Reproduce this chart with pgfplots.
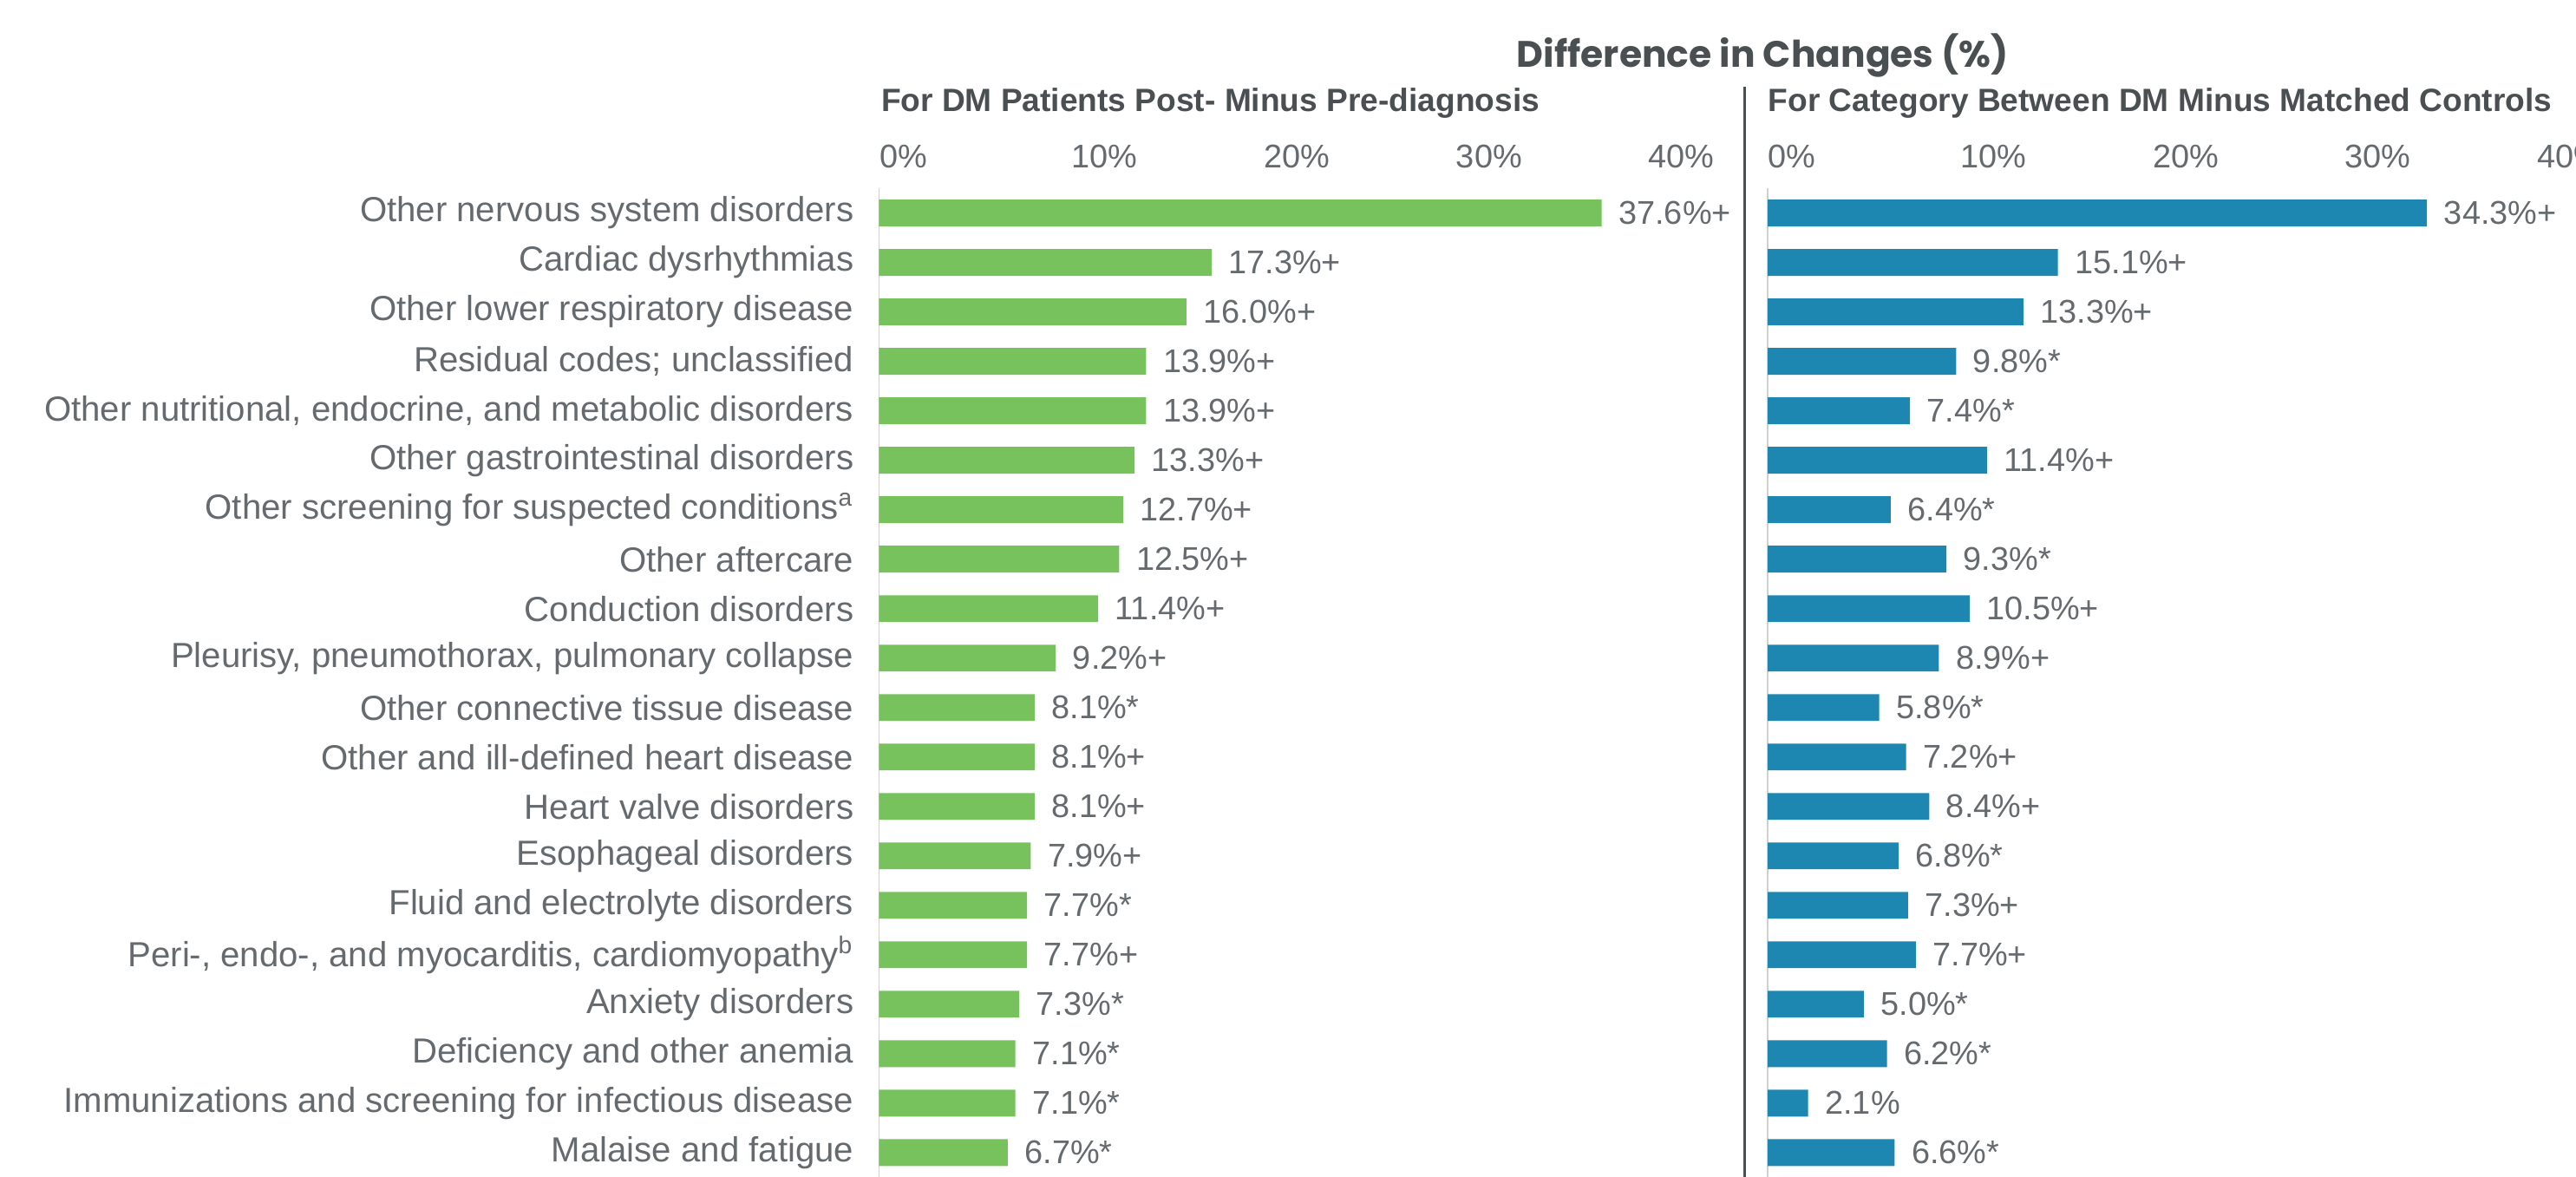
\documentclass[border=0pt]{standalone}
\usepackage{fontspec}
\setmainfont{Liberation Sans}
\newfontfamily\titlefont{Poppins}
\usepackage{pgfplots}
\pgfplotsset{compat=1.18}
\definecolor{bargreen}{HTML}{78C25E}
\definecolor{barblue}{HTML}{1D87B1}
\definecolor{txtgray}{HTML}{646A6E}
\definecolor{ttlgray}{HTML}{4A4F52}
\definecolor{axgray}{HTML}{D0D0D0}
\pgfplotsset{
  panel/.style={
    scale only axis, width=234pt, height=301pt,
    anchor=north west,
    xbar, bar width=8.15pt,
    xmin=0, xmax=40, ymin=-0.5, ymax=19.5, y dir=reverse,
    axis y line*=left, axis x line*=top,
    x axis line style={draw=none},
    y axis line style={draw=axgray, line width=0.4pt},
    major tick length=0pt,
    xtick={0,10,20,30,40},
    xticklabel={\pgfmathprintnumber{\tick}\%},
    xticklabel style={anchor=south west, inner sep=0pt, yshift=6pt, font=\fontsize{10}{12}\selectfont, text=txtgray},
    /pgf/number format/assume math mode=true,
    ytick={0,...,19},
    yticklabel style={anchor=east, inner sep=0pt, xshift=-7.5pt, font=\fontsize{10.6}{12}\selectfont, text=txtgray},
    clip=false,
    point meta=explicit symbolic,
    nodes near coords,
    every node near coord/.append style={anchor=west, inner sep=0pt, xshift=5pt, font=\fontsize{10}{12}\selectfont, text=txtgray},
  }
}
\begin{document}
\begin{tikzpicture}
\useasboundingbox (0,0) rectangle (784pt,-358pt);
\node[font=\titlefont\bfseries\fontsize{11.2}{13}\selectfont, text=ttlgray] at (536.5pt,-17pt) {Difference in Changes (\%)};
\node[anchor=west, inner sep=0pt, font=\bfseries\fontsize{9.8}{11}\selectfont, text=ttlgray] at (268pt,-31.5pt) {For DM Patients Post- Minus Pre-diagnosis};
\node[anchor=west, inner sep=0pt, font=\bfseries\fontsize{9.8}{11}\selectfont, text=ttlgray] at (538pt,-31.5pt) {For Category Between DM Minus Matched Controls};
\draw[ttlgray, line width=0.6pt] (531pt,-26.5pt) -- (531pt,-360pt);
\begin{axis}[panel, at={(267.5pt,-57.3pt)},
  yticklabels={Other nervous system disorders, Cardiac dysrhythmias, Other lower respiratory disease, Residual codes; unclassified, {Other nutritional, endocrine, and metabolic disorders}, Other gastrointestinal disorders, Other screening for suspected conditions\textsuperscript{a}, Other aftercare, Conduction disorders, {Pleurisy, pneumothorax, pulmonary collapse}, Other connective tissue disease, Other and ill-defined heart disease, Heart valve disorders, Esophageal disorders, Fluid and electrolyte disorders, {Peri-, endo-, and myocarditis, cardiomyopathy\textsuperscript{b}}, Anxiety disorders, Deficiency and other anemia, Immunizations and screening for infectious disease, Malaise and fatigue}]
\addplot[fill=bargreen, draw=none] coordinates {
(37.6,0) [37.6\%+]
(17.3,1) [17.3\%+]
(16.0,2) [16.0\%+]
(13.9,3) [13.9\%+]
(13.9,4) [13.9\%+]
(13.3,5) [13.3\%+]
(12.7,6) [12.7\%+]
(12.5,7) [12.5\%+]
(11.4,8) [11.4\%+]
(9.2,9) [9.2\%+]
(8.1,10) [8.1\%*]
(8.1,11) [8.1\%+]
(8.1,12) [8.1\%+]
(7.9,13) [7.9\%+]
(7.7,14) [7.7\%*]
(7.7,15) [7.7\%+]
(7.3,16) [7.3\%*]
(7.1,17) [7.1\%*]
(7.1,18) [7.1\%*]
(6.7,19) [6.7\%*]
};
\end{axis}
\begin{axis}[panel, at={(538pt,-57.3pt)}, yticklabels={}]
\addplot[fill=barblue, draw=none] coordinates {
(34.3,0) [34.3\%+]
(15.1,1) [15.1\%+]
(13.3,2) [13.3\%+]
(9.8,3) [9.8\%*]
(7.4,4) [7.4\%*]
(11.4,5) [11.4\%+]
(6.4,6) [6.4\%*]
(9.3,7) [9.3\%*]
(10.5,8) [10.5\%+]
(8.9,9) [8.9\%+]
(5.8,10) [5.8\%*]
(7.2,11) [7.2\%+]
(8.4,12) [8.4\%+]
(6.8,13) [6.8\%*]
(7.3,14) [7.3\%+]
(7.7,15) [7.7\%+]
(5.0,16) [5.0\%*]
(6.2,17) [6.2\%*]
(2.1,18) [2.1\%]
(6.6,19) [6.6\%*]
};
\end{axis}
\end{tikzpicture}
\end{document}
